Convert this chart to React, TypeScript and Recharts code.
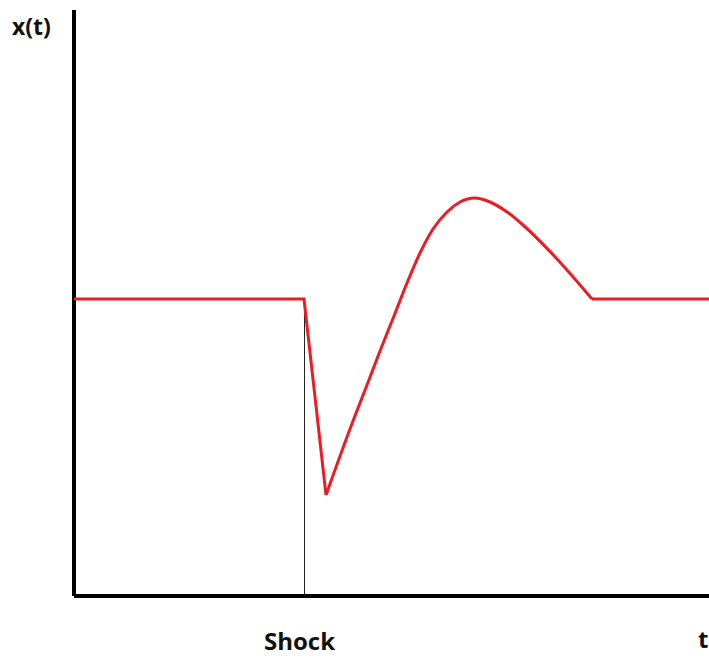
import { LineChart, Line, XAxis, YAxis, ReferenceLine } from "recharts";

// time axis (arbitrary units) and response x(t)
const times = [
  0, 230, 252, 279, 293, 306, 320, 333, 346, 359, 373, 386, 401, 416, 433, 449, 483, 518, 635,
];
const response = [
  297, 297, 101, 175, 211, 245, 280, 313, 343, 367, 384, 394, 398, 394, 384, 371, 337, 297, 297,
];

const shockTime = 230;
const baseline = 297;
const troughTime = 252;
const settleTime = 518;

// three pieces: sharp drop (straight), smooth recovery, flat tail
const data = times.map((t, i) => ({
  t,
  drop: t <= troughTime ? response[i] : null,
  recovery: t >= troughTime && t <= settleTime ? response[i] : null,
  tail: t >= settleTime ? response[i] : null,
}));

const labelStyle = {
  position: "absolute" as const,
  fontFamily: "'Open Sans', sans-serif",
  fontWeight: 700,
  color: "#111",
  lineHeight: 1,
  whiteSpace: "nowrap" as const,
};

const red = "#ed1c24";

export default function App() {
  return (
    <div
      style={{
        position: "absolute",
        left: 0,
        top: 0,
        width: 709,
        height: 660,
        background: "#fff",
      }}
    >
      <LineChart
        width={709}
        height={660}
        data={data}
        margin={{ top: 10, right: 0, bottom: 64, left: 74 }}
      >
        <XAxis type="number" dataKey="t" domain={[0, 635]} hide />
        <YAxis type="number" domain={[0, 586]} hide />
        <ReferenceLine
          segment={[
            { x: shockTime, y: 0 },
            { x: shockTime, y: baseline },
          ]}
          stroke="#222"
          strokeWidth={1}
          shapeRendering="crispEdges"
        />
        <ReferenceLine y={0} stroke="#000" strokeWidth={4} />
        <ReferenceLine x={0} stroke="#000" strokeWidth={4} />
        <Line
          type="linear"
          dataKey="drop"
          stroke={red}
          strokeWidth={3}
          dot={false}
          activeDot={false}
          isAnimationActive={false}
        />
        <Line
          type="monotoneX"
          dataKey="recovery"
          stroke={red}
          strokeWidth={3}
          dot={false}
          activeDot={false}
          isAnimationActive={false}
        />
        <Line
          type="linear"
          dataKey="tail"
          stroke={red}
          strokeWidth={3}
          dot={false}
          activeDot={false}
          isAnimationActive={false}
        />
      </LineChart>
      <div style={{ ...labelStyle, left: 12, top: 15, fontSize: 23 }}>x(t)</div>
      <div style={{ ...labelStyle, left: 264, top: 629, fontSize: 24 }}>Shock</div>
      <div style={{ ...labelStyle, left: 698, top: 627, fontSize: 24 }}>t</div>
    </div>
  );
}
